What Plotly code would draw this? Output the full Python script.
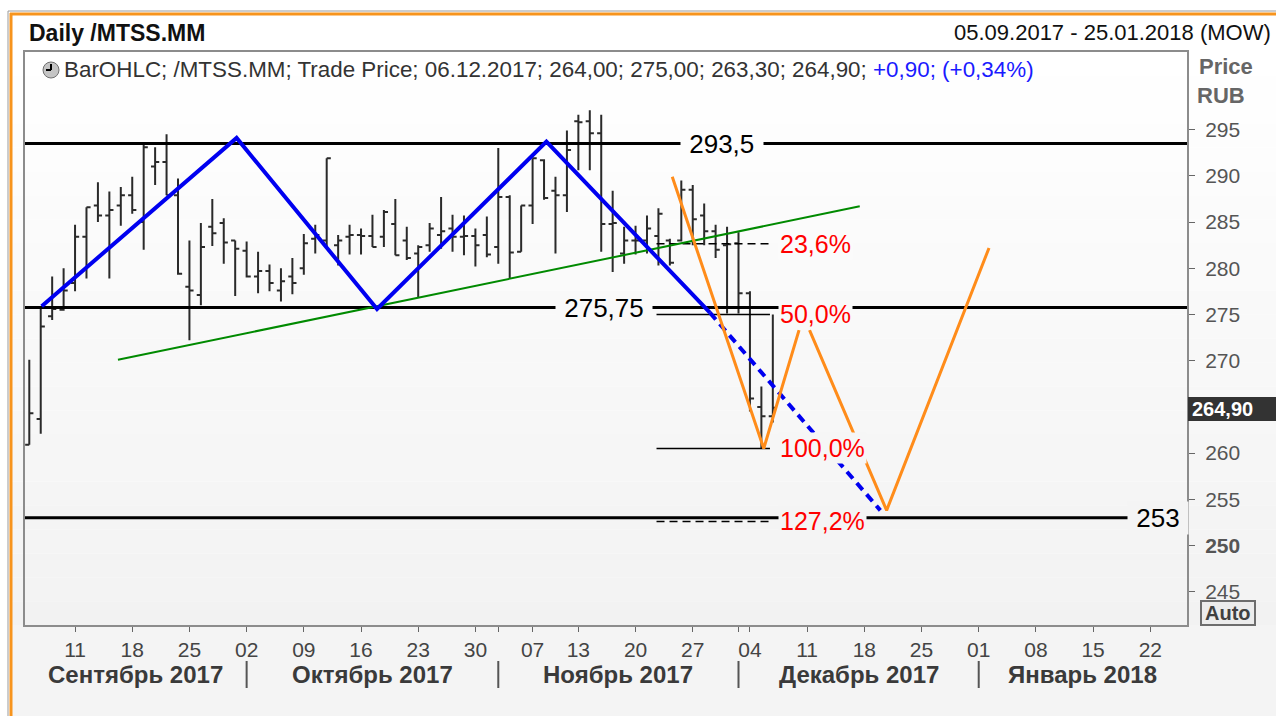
import pandas as pd
import plotly.graph_objects as go

W, H = 1276, 716
FONT = "Liberation Sans, Arial, sans-serif"

# ---------------- data ----------------
holidays = ["2017-11-06"]
first_bar, last_bar = "2017-09-05", "2017-12-06"
cal_start, cal_end = "2017-09-04", "2018-01-31"
x_range = ["2017-09-04 15:00", "2018-01-25 05:00"]
y_range = [241.4, 303.4]

opens = [260.9, 263.7, 274.8, 275.5, 278.4, 283.4, 286.8, 285.7, 286.8, 287.9,
         285.0, 291.0, 291.5, 287.9, 278.0, 277.1, 284.5, 284.9, 283.0, 281.9,
         279.1, 279.7, 277.6, 279.1, 280.0, 283.2, 283.0, 282.5, 283.4, 283.6,
         283.5, 283.4, 284.8, 283.0, 281.6, 282.5, 283.6, 284.3, 283.4, 283.5,
         283.6, 282.3, 287.7, 281.8, 286.8, 291.7, 288.4, 287.9, 295.9, 295.9,
         294.6, 284.8, 281.6, 283.0, 283.0, 283.5, 283.0, 283.0, 288.5, 285.7,
         284.0, 282.5, 282.7, 277.3, 265.0, 264.0]
highs = [270.1, 275.8, 279.1, 280.0, 284.7, 286.6, 289.3, 288.3, 288.8, 289.9,
         293.5, 293.1, 294.5, 289.7, 283.0, 284.9, 287.5, 285.4, 283.0, 282.9,
         281.8, 280.4, 280.0, 281.1, 283.7, 284.7, 291.9, 283.6, 284.7, 284.3,
         285.8, 286.3, 287.5, 284.5, 282.5, 284.9, 287.7, 285.8, 285.7, 284.3,
         285.6, 293.0, 287.9, 286.8, 291.9, 291.8, 289.9, 294.9, 296.6, 297.1,
         296.6, 288.4, 284.5, 284.6, 285.7, 286.5, 283.2, 289.5, 289.0, 287.0,
         284.7, 284.5, 283.9, 277.5, 267.2, 275.0]
lows = [260.9, 262.1, 274.4, 275.4, 277.5, 278.9, 285.0, 278.9, 284.6, 285.9,
        282.0, 289.0, 287.9, 279.3, 272.2, 276.0, 282.4, 280.5, 277.0, 279.0,
        277.3, 277.5, 276.4, 277.2, 279.3, 281.6, 282.1, 280.3, 281.5, 281.5,
        282.3, 282.3, 281.4, 280.9, 276.9, 281.8, 282.1, 281.8, 281.4, 280.2,
        281.2, 280.5, 278.9, 281.8, 284.8, 287.4, 281.6, 286.1, 290.6, 290.6,
        281.8, 279.6, 280.5, 281.5, 281.6, 280.3, 280.3, 282.9, 282.5, 282.5,
        281.1, 275.1, 275.1, 264.5, 260.5, 263.3]
closes = [264.3, 273.7, 275.6, 277.6, 283.4, 286.6, 285.7, 286.3, 287.9, 286.3,
          293.1, 291.5, 287.9, 279.4, 277.6, 282.3, 283.8, 282.8, 282.1, 279.1,
          279.7, 278.4, 278.6, 278.4, 282.7, 283.6, 291.9, 283.0, 283.6, 283.5,
          282.3, 286.1, 281.4, 281.1, 282.3, 284.3, 284.0, 283.4, 283.5, 282.5,
          281.5, 287.7, 281.7, 286.8, 291.9, 287.6, 287.9, 292.8, 295.8, 294.6,
          284.8, 284.9, 283.0, 283.0, 284.3, 285.9, 280.6, 288.5, 285.3, 284.0,
          282.0, 282.6, 277.3, 265.9, 264.0, 264.9]

levels = [293.5, 275.75, 253.0]
level_text = ["293,5", "275,75", "253"]
level_label_x = ["2017-11-29 14:00", "2017-11-15 05:00", "2018-01-22 17:00"]

blue_x = ["2017-09-06 02:00", "2017-09-29 03:00", "2017-10-17 09:36",
          "2017-11-08 05:00", "2017-11-28 12:00"]
blue_y = [275.9, 294.1, 275.6, 293.7, 275.2]
blue_dash_x = ["2017-11-28 12:00", "2017-12-19 09:36"]
blue_dash_y = [275.2, 253.8]

orange_a_x = ["2017-11-23 05:00", "2017-12-05 05:00", "2017-12-08 07:00"]
orange_a_y = [289.9, 260.5, 273.3]
orange_b_x = ["2017-12-11 05:00", "2017-12-19 22:48", "2018-01-01 21:36"]
orange_b_y = [273.3, 253.8, 282.2]

green_x = ["2017-09-14 18:00", "2017-12-15 14:24"]
green_y = [270.1, 286.7]

fib_high, fib_low = 289.5, 260.5
fib_ratios = [0.236, 0.5, 1.0, 1.272]
fib_text = ["23,6%", "50,0%", "100,0%", "127,2%"]
fib_dashed = [True, False, False, True]
fib_x = ["2017-11-21 20:00", "2017-12-05 18:00"]
fib_label_x = "2017-12-06 10:00"

ytick_vals = [245, 250, 255, 260, 270, 275, 280, 285, 290, 295]
bold_ytick = 250
month_names = ["Сентябрь 2017", "Октябрь 2017", "Ноябрь 2017", "Декабрь 2017", "Январь 2018"]

title_text = "Daily /MTSS.MM"
period_text = "05.09.2017 - 25.01.2018 (MOW)"
legend_text = "BarOHLC; /MTSS.MM; Trade Price; 06.12.2017; 264,00; 275,00; 263,30; 264,90; "
legend_change = "+0,90; (+0,34%)"
last_price_text = "264,90"

# ---------------- trading calendar (weekdays minus holidays) ----------------
cal = pd.bdate_range(cal_start, cal_end)
cal = cal.drop(pd.to_datetime(holidays))


def pos(s):
    t = pd.Timestamp(s)
    d = t.normalize()
    return cal.get_loc(d) + (t - d) / pd.Timedelta(days=1)


bar_days = cal[(cal >= first_bar) & (cal <= last_bar)]
bar_x = [pos(d) for d in bar_days]
xr = [pos(x_range[0]), pos(x_range[1])]

# ticks: first trading day of each week + first trading day of each month
cal_s = pd.Series(cal, index=cal)
iso = cal.isocalendar()
week_first = cal_s.groupby([iso.year.values, iso.week.values]).min()
month_first = cal_s.groupby([cal.year, cal.month]).min()
tick_map = {}
for d in month_first:
    tick_map[pos(d)] = ""
for d in week_first:
    tick_map[pos(d)] = d.strftime("%d")
tick_vals = sorted(v for v in tick_map if xr[0] <= v <= xr[1])
tick_text = [tick_map[v] for v in tick_vals]

# ---------------- helpers for pixel layout ----------------
def fx(px):
    return px / W


def fy(py):
    return 1 - py / H


PLOT_L, PLOT_R, PLOT_T, PLOT_B = 25, 1187, 52, 625


def grad(py):
    t = min(max((py - PLOT_T) / (PLOT_B - PLOT_T), 0), 1)
    v = round(255 - t * 13)
    return f"rgb({v},{v},{v})"


def y_to_px(v):
    return PLOT_T + (y_range[1] - v) / (y_range[1] - y_range[0]) * (PLOT_B - PLOT_T)


fig = go.Figure()

fig.add_trace(go.Ohlc(
    x=bar_x, open=opens, high=highs, low=lows, close=closes,
    increasing=dict(line=dict(color="#2a2a2a", width=2)),
    decreasing=dict(line=dict(color="#2a2a2a", width=2)),
    tickwidth=0.36, hoverinfo="skip", showlegend=False))

# horizontal levels
for lv in levels:
    fig.add_trace(go.Scatter(x=xr, y=[lv, lv], mode="lines",
                             line=dict(color="black", width=3),
                             hoverinfo="skip", showlegend=False))

# fibonacci levels
for r, dashed in zip(fib_ratios, fib_dashed):
    lv = fib_high - r * (fib_high - fib_low)
    fig.add_trace(go.Scatter(x=[pos(v) for v in fib_x], y=[lv, lv], mode="lines",
                             line=dict(color="black", width=1.5,
                                       dash="8px,5px" if dashed else "solid"),
                             hoverinfo="skip", showlegend=False))

fig.add_trace(go.Scatter(x=[pos(v) for v in green_x], y=green_y, mode="lines",
                         line=dict(color="#008a00", width=2),
                         hoverinfo="skip", showlegend=False))
fig.add_trace(go.Scatter(x=[pos(v) for v in blue_x], y=blue_y, mode="lines",
                         line=dict(color="#0000f0", width=4),
                         hoverinfo="skip", showlegend=False))
fig.add_trace(go.Scatter(x=[pos(v) for v in blue_dash_x], y=blue_dash_y, mode="lines",
                         line=dict(color="#0000f0", width=4, dash="9px,6px"),
                         hoverinfo="skip", showlegend=False))
for ox, oy in [(orange_a_x, orange_a_y), (orange_b_x, orange_b_y)]:
    fig.add_trace(go.Scatter(x=[pos(v) for v in ox], y=oy, mode="lines",
                             line=dict(color="#ff8c1a", width=3),
                             hoverinfo="skip", showlegend=False))

shapes = []
annotations = []

# background gradient bands
n_bands = 24
for i in range(n_bands):
    y0 = PLOT_T + i * (PLOT_B - PLOT_T) / n_bands
    y1 = PLOT_T + (i + 1) * (PLOT_B - PLOT_T) / n_bands
    shapes.append(dict(type="rect", xref="paper", yref="paper", x0=fx(12), x1=1,
                       y0=fy(y1), y1=fy(y0), fillcolor=grad((y0 + y1) / 2),
                       line=dict(width=0), layer="below"))
shapes.append(dict(type="rect", xref="paper", yref="paper", x0=fx(12), x1=1,
                   y0=0, y1=fy(PLOT_B), fillcolor="#f4f4f4", line=dict(width=0), layer="below"))
# outer frame
shapes.append(dict(type="line", xref="paper", yref="paper", x0=fx(8), x1=1, y0=fy(11), y1=fy(11),
                   line=dict(color="#9a9a9a", width=1)))
shapes.append(dict(type="line", xref="paper", yref="paper", x0=fx(8), x1=fx(8), y0=0, y1=fy(11),
                   line=dict(color="#9a9a9a", width=1)))
shapes.append(dict(type="line", xref="paper", yref="paper", x0=fx(10), x1=1, y0=fy(14), y1=fy(14),
                   line=dict(color="#f7941d", width=3)))
shapes.append(dict(type="line", xref="paper", yref="paper", x0=fx(11), x1=fx(11), y0=0, y1=fy(13),
                   line=dict(color="#f7941d", width=3)))

# last price box
shapes.append(dict(type="rect", xref="paper", yref="paper", x0=fx(1188), x1=1,
                   y0=fy(421), y1=fy(397), fillcolor="#333333", line=dict(width=0)))
annotations.append(dict(x=fx(1190), y=fy(409), xref="paper", yref="paper", text=f"<b>{last_price_text}</b>",
                        showarrow=False, xanchor="left", yanchor="middle",
                        font=dict(family=FONT, size=20, color="white")))
# Auto box
shapes.append(dict(type="rect", xref="paper", yref="paper", x0=fx(1201), x1=fx(1255),
                   y0=fy(625), y1=fy(601), fillcolor="#ececec", line=dict(color="#6d6d6d", width=2)))
annotations.append(dict(x=fx(1228), y=fy(613), xref="paper", yref="paper", text="<b>Auto</b>",
                        showarrow=False, xanchor="center", yanchor="middle",
                        font=dict(family=FONT, size=20, color="#404040")))

# clock icon
shapes.append(dict(type="circle", xref="paper", yref="paper", x0=fx(43), x1=fx(59),
                   y0=fy(78), y1=fy(62), fillcolor="#c4c4c4", line=dict(color="#707070", width=1)))
shapes.append(dict(type="line", xref="paper", yref="paper", x0=fx(51), x1=fx(51),
                   y0=fy(70), y1=fy(64), line=dict(color="black", width=2)))
shapes.append(dict(type="line", xref="paper", yref="paper", x0=fx(51), x1=fx(46),
                   y0=fy(70), y1=fy(70), line=dict(color="black", width=2)))

# month separators and labels
seps = [pos(d) for d in month_first if xr[0] < pos(d) < xr[1]]
bounds = [xr[0]] + seps + [xr[1]]
for s in seps:
    shapes.append(dict(type="line", xref="x", yref="paper", x0=s, x1=s, y0=fy(688), y1=fy(661),
                       line=dict(color="#555555", width=2)))
for name, a, b in zip(month_names, bounds[:-1], bounds[1:]):
    annotations.append(dict(x=(a + b) / 2, y=fy(674), xref="x", yref="paper",
                            text=f"<b>{name}</b>", showarrow=False, xanchor="center",
                            yanchor="middle", font=dict(family=FONT, size=24, color="#3a3a3a")))

# header texts
annotations.append(dict(x=fx(27), y=fy(33), xref="paper", yref="paper", text=f"<b>{title_text}</b>",
                        showarrow=False, xanchor="left", yanchor="middle",
                        font=dict(family=FONT, size=23, color="#111111")))
annotations.append(dict(x=fx(1273), y=fy(33), xref="paper", yref="paper", text=period_text,
                        showarrow=False, xanchor="right", yanchor="middle",
                        font=dict(family=FONT, size=22, color="#111111")))
annotations.append(dict(x=fx(62), y=fy(70), xref="paper", yref="paper",
                        text=f"{legend_text}<span style='color:#1a1aff'>{legend_change}</span>",
                        showarrow=False, xanchor="left", yanchor="middle",
                        font=dict(family=FONT, size=22.4, color="#333333")))
annotations.append(dict(x=fx(1226), y=fy(67), xref="paper", yref="paper", text="<b>Price</b>",
                        showarrow=False, xanchor="center", yanchor="middle",
                        font=dict(family=FONT, size=22, color="#666666")))
annotations.append(dict(x=fx(1221), y=fy(96), xref="paper", yref="paper", text="<b>RUB</b>",
                        showarrow=False, xanchor="center", yanchor="middle",
                        font=dict(family=FONT, size=22, color="#666666")))

# level labels
nb = "\u00a0"
for lv, txt, lx in zip(levels, level_text, level_label_x):
    annotations.append(dict(x=pos(lx), y=lv, xref="x", yref="y", text=nb + txt + nb,
                            showarrow=False, xanchor="center", yanchor="middle",
                            bgcolor=grad(y_to_px(lv)), borderpad=1,
                            font=dict(family=FONT, size=26, color="black")))
# fib labels
for r, txt in zip(fib_ratios, fib_text):
    lv = fib_high - r * (fib_high - fib_low)
    annotations.append(dict(x=pos(fib_label_x), y=lv, xref="x", yref="y", text=txt,
                            showarrow=False, xanchor="left", yanchor="middle",
                            bgcolor=grad(y_to_px(lv)), borderpad=1,
                            font=dict(family=FONT, size=25, color="#ff0000")))

ytick_text = [f"<b>{v}</b>" if v == bold_ytick else str(v) for v in ytick_vals]

fig.update_layout(
    width=W, height=H, autosize=False,
    margin=dict(l=0, r=0, t=0, b=0, pad=0),
    paper_bgcolor="white", plot_bgcolor="rgba(0,0,0,0)",
    shapes=shapes, annotations=annotations, showlegend=False,
    xaxis=dict(domain=[fx(PLOT_L), fx(PLOT_R)], range=xr, showgrid=False, zeroline=False,
               rangeslider=dict(visible=False),
               tickmode="array", tickvals=tick_vals, ticktext=tick_text,
               ticks="outside", ticklen=5, tickwidth=1, tickcolor="#666666",
               tickfont=dict(family=FONT, size=21, color="#444444"),
               showline=True, mirror=True, linecolor="#8c8c8c", linewidth=2, fixedrange=True),
    yaxis=dict(domain=[fy(PLOT_B), fy(PLOT_T)], range=y_range, side="right", showgrid=False,
               zeroline=False, tickmode="array", tickvals=ytick_vals, ticktext=ytick_text,
               ticks="outside", ticklen=6, tickwidth=1, tickcolor="#666666",
               ticklabelstandoff=6,
               tickfont=dict(family=FONT, size=21, color="#555555"),
               showline=True, mirror=True, linecolor="#8c8c8c", linewidth=2, fixedrange=True),
)

fig.write_html("out.html", config={"displayModeBar": False},
               post_script="document.body.style.margin='0';document.body.style.overflow='hidden';")
